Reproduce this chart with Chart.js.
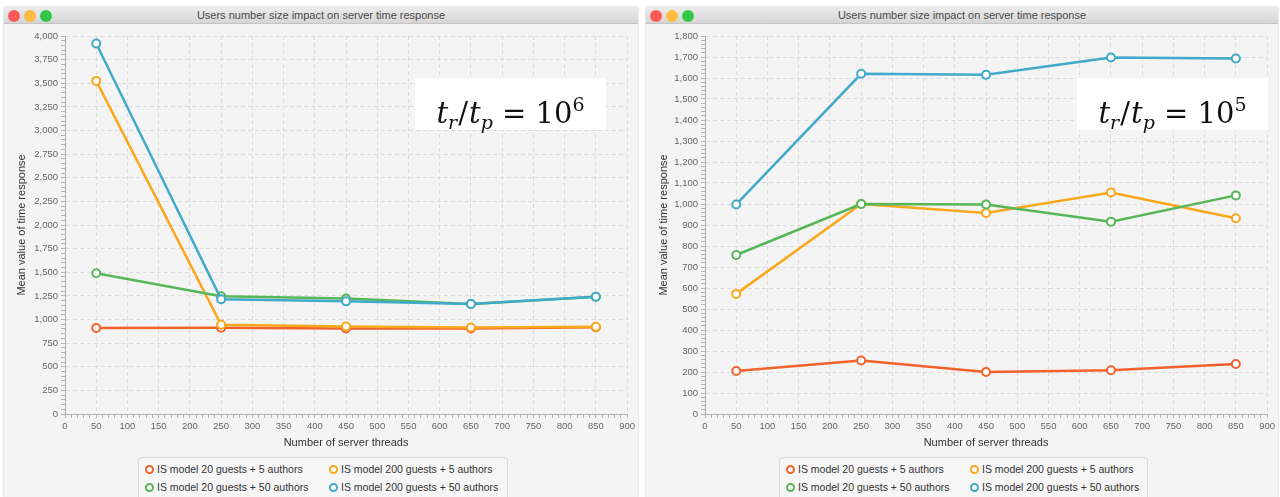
<!DOCTYPE html>
<html>
<head>
<meta charset="utf-8">
<script src="https://cdn.jsdelivr.net/npm/chart.js@4.4.1/dist/chart.umd.min.js"></script>
<style>
  body { margin: 0; background: #ffffff; width: 1280px; height: 497px; overflow: hidden; font-family: "Liberation Sans", Arial, sans-serif; }
  .win { position: absolute; top: 7px; height: 490px; background: #f4f4f4; box-shadow: 0 0 2px rgba(0,0,0,0.25); }
  .bar { height: 17px; background: linear-gradient(#ececec, #d6d6d6); border-bottom: 1px solid #c4c4c4; position: relative; box-sizing: border-box; }
  .bar .dot { position: absolute; top: 3px; width: 12px; height: 12px; border-radius: 50%; }
  .bar .t { text-align: center; font-size: 11px; color: #4a4a4a; line-height: 17px; }
  .content { position: absolute; top: 17px; left: 0; right: 0; bottom: 0; }
  .content canvas { position: absolute; left: 0; top: 0; }
  .legend { position: absolute; top: 433px; height: 44px; border: 1px solid #dadada; border-radius: 4px; background: #f6f6f6; box-sizing: border-box; font-size: 10.5px; color: #333; }
  .legend .item { position: absolute; white-space: nowrap; line-height: 14px; }
  .legend .mk { display: inline-block; width: 5px; height: 5px; border-radius: 50%; border: 2px solid; background: #fff; margin-right: 3px; vertical-align: -1px; }
  .note { position: absolute; top: 54px; width: 191px; height: 52px; background: #fff; font-family: "DejaVu Serif", "Liberation Serif", serif; font-size: 29px; line-height: 52px; text-align: center; color: #111; white-space: nowrap; }
  .note sub, .note sup { font-size: 19px; }
  .note sub { vertical-align: -6px; }
  .note sup { vertical-align: 12px; }
  .note .sl { margin: 0 1px; }
</style>
</head>
<body>

<div class="win" id="winLeft" style="left:4px; width:634px;">
  <div class="bar"><span class="dot" style="left:4px;background:#fc5b57"></span><span class="dot" style="left:20px;background:#fdbc40"></span><span class="dot" style="left:36px;background:#34c84a"></span><div class="t">Users number size impact on server time response</div></div>
  <div class="content">
    <canvas id="leftChart" width="634" height="430"></canvas>
    <div class="note" style="left:411px;"><i>t</i><sub><i>r</i></sub><span class="sl">/</span><i>t</i><sub><i>p</i></sub> = 10<sup>6</sup></div>
    <div class="legend" id="leftLegend" style="left:134px; width:370px;"></div>
  </div>
</div>

<div class="win" id="winRight" style="left:646px; width:632px;">
  <div class="bar"><span class="dot" style="left:4px;background:#fc5b57"></span><span class="dot" style="left:20px;background:#fdbc40"></span><span class="dot" style="left:36px;background:#34c84a"></span><div class="t">Users number size impact on server time response</div></div>
  <div class="content">
    <canvas id="rightChart" width="632" height="430"></canvas>
    <div class="note" style="left:431px;"><i>t</i><sub><i>r</i></sub><span class="sl">/</span><i>t</i><sub><i>p</i></sub> = 10<sup>5</sup></div>
    <div class="legend" id="rightLegend" style="left:133px; width:369px;"></div>
  </div>
</div>

<script>
// server threads on the x axis
const threads = [50, 250, 450, 650, 850];

const seriesLabels = [
    'IS model 20 guests + 5 authors',
    'IS model 200 guests + 5 authors',
    'IS model 20 guests + 50 authors',
    'IS model 200 guests + 50 authors'
];
const seriesColors = ['#f3622d', '#fba71b', '#57b757', '#41a9c9'];

// t_r / t_p = 10^6
const left20g5a = [910, 912, 905, 905, 918];
const left200g5a = [3525, 945, 925, 915, 922];
const left20g50a = [1490, 1245, 1222, 1165, 1240];
const left200g50a = [3920, 1215, 1192, 1165, 1240];

// t_r / t_p = 10^5
const right20g5a = [205, 255, 200, 208, 238];
const right200g5a = [572, 1000, 957, 1055, 932];
const right20g50a = [757, 1000, 998, 916, 1041];
const right200g50a = [998, 1620, 1615, 1698, 1693];

const leftYTicks = { max: 4000, major: 250, minor: 50 };
const rightYTicks = { max: 1800, major: 100, minor: 20 };

function makeDatasets(series) {
    return series.map(function(values, i) {
        return {
            label: seriesLabels[i],
            data: values.map((v, k) => ({ x: threads[k], y: v })),
            borderColor: seriesColors[i],
            backgroundColor: seriesColors[i],
            borderWidth: 2.5,
            pointRadius: 4,
            pointBorderWidth: 2,
            pointBackgroundColor: '#ffffff',
            pointBorderColor: seriesColors[i],
            tension: 0,
            order: 3 - i
        };
    });
}

function gridColor(step) {
    return function(ctx) {
        if (!ctx.tick) return 'transparent';
        const v = ctx.tick.value;
        return (v !== 0 && v % step === 0) ? '#dcdcdc' : 'transparent';
    };
}

function makeChart(canvasId, series, yt, yWidth) {
    const ctx = document.getElementById(canvasId).getContext('2d');
    return new Chart(ctx, {
        type: 'line',
        data: { datasets: makeDatasets(series) },
        options: {
            responsive: false,
            animation: false,
            layout: { padding: { top: 12, right: 10, left: 0, bottom: 0 } },
            plugins: { legend: { display: false }, tooltip: { enabled: false } },
            scales: {
                x: {
                    type: 'linear',
                    min: 0,
                    max: 900,
                    afterFit: s => { s.height = 40; },
                    ticks: {
                        stepSize: 10,
                        autoSkip: false,
                        maxRotation: 0,
                        padding: 3,
                        color: '#666',
                        font: { family: 'Liberation Sans', size: 9.5 },
                        callback: v => (v % 50 === 0 ? v : '')
                    },
                    grid: {
                        color: gridColor(50),
                        tickColor: '#b4b4b4',
                        tickLength: 4,
                        tickBorderDash: []
                    },
                    border: { display: true, color: '#b0b0b0', dash: [4, 3] },
                    title: {
                        display: true,
                        text: 'Number of server threads',
                        color: '#333',
                        font: { family: 'Liberation Sans', size: 11 },
                        padding: { top: 4, bottom: 4 }
                    }
                },
                y: {
                    min: 0,
                    max: yt.max,
                    afterFit: s => { s.width = yWidth; },
                    ticks: {
                        stepSize: yt.minor,
                        autoSkip: false,
                        padding: 3,
                        color: '#666',
                        font: { family: 'Liberation Sans', size: 9.5 },
                        callback: v => (v % yt.major === 0 ? v.toLocaleString('en-US') : '')
                    },
                    grid: {
                        color: gridColor(yt.major),
                        tickColor: '#b4b4b4',
                        tickLength: 4,
                        tickBorderDash: []
                    },
                    border: { display: true, color: '#b0b0b0', dash: [4, 3] },
                    title: {
                        display: true,
                        text: 'Mean value of time response',
                        color: '#333',
                        font: { family: 'Liberation Sans', size: 11 },
                        padding: { top: 11, bottom: 4 }
                    }
                }
            }
        }
    });
}

function buildLegend(id) {
    const box = document.getElementById(id);
    // JavaFX legend: 2 columns, 2 rows
    const pos = [[6, 4], [190, 4], [6, 22], [190, 22]];
    seriesLabels.forEach(function(label, i) {
        const el = document.createElement('div');
        el.className = 'item';
        el.style.left = pos[i][0] + 'px';
        el.style.top = pos[i][1] + 'px';
        el.innerHTML = '<span class="mk" style="border-color:' + seriesColors[i] + '"></span>' + label;
        box.appendChild(el);
    });
}

makeChart('leftChart', [left20g5a, left200g5a, left20g50a, left200g50a], leftYTicks, 61);
makeChart('rightChart', [right20g5a, right200g5a, right20g50a, right200g50a], rightYTicks, 59);
buildLegend('leftLegend');
buildLegend('rightLegend');
</script>
</body>
</html>
